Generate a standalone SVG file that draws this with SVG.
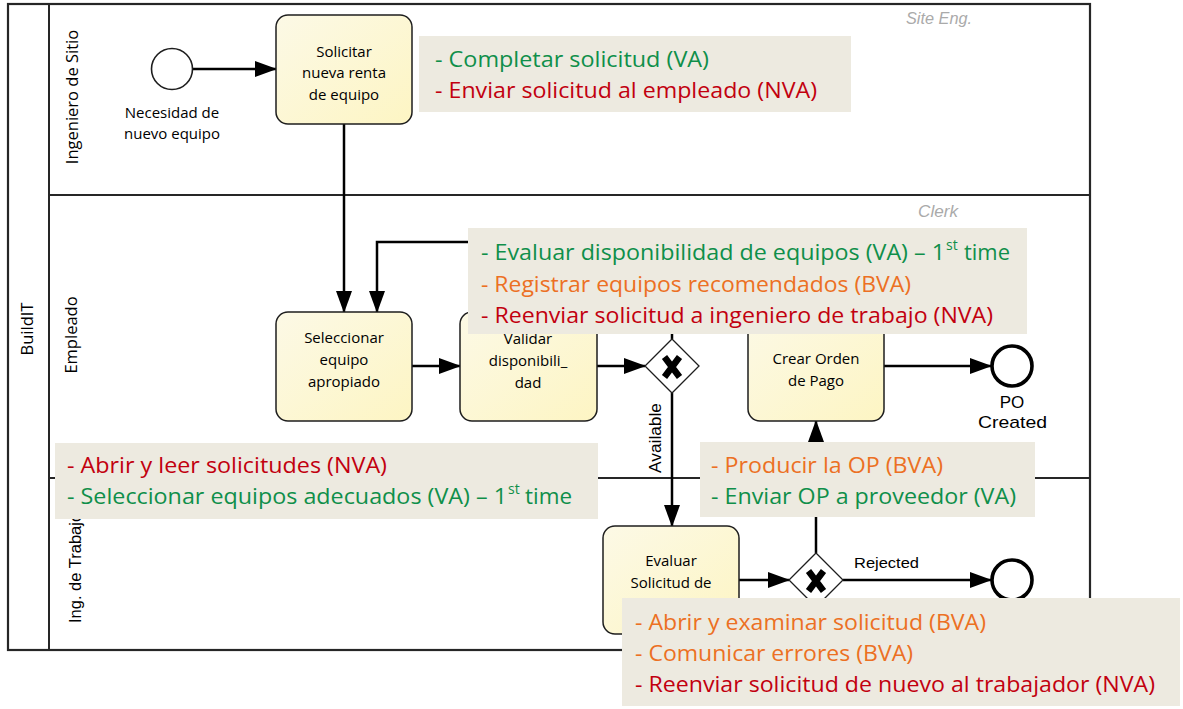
<svg xmlns="http://www.w3.org/2000/svg" width="1183" height="709" viewBox="0 0 1183 709">
  <defs>
    <style>
      .pool{fill:none;stroke:#262626;stroke-width:2.2}
      .lane{fill:none;stroke:#262626;stroke-width:2}
      .task{fill:url(#taskFill);stroke:#1e1e1e;stroke-width:1.5}
      .gw{fill:#fff;stroke:#1e1e1e;stroke-width:1.3}
      .flow{fill:none;stroke:#000;stroke-width:2.5}
      .start{fill:#fff;stroke:#1e1e1e;stroke-width:1.6}
      .end{fill:#fff;stroke:#000;stroke-width:3.6}
      .note{fill:#edeae0}
      .tt{font-family:"Open Sans","Noto Sans",sans-serif;font-size:15px;fill:#000;text-anchor:middle}
      .lab{font-family:"Open Sans","Noto Sans",sans-serif;font-size:16.5px;fill:#000;text-anchor:middle}
      .ar{font-family:"Liberation Sans",Arial,sans-serif;fill:#000}
      .role{font-family:"Liberation Sans",Arial,sans-serif;font-style:italic;font-size:16px;fill:#aaaaaa}
      .an{font-family:"Open Sans","Noto Sans",sans-serif;font-size:22px}
      .sup{font-family:"Open Sans","Noto Sans",sans-serif;font-size:14px}
      .va{fill:#0f8f4a}
      .bva{fill:#ec7023}
      .nva{fill:#c2000f}
    </style>
    <linearGradient id="taskFill" x1="0" y1="0" x2="1" y2="1">
      <stop offset="0" stop-color="#fcf9e6"/>
      <stop offset="1" stop-color="#fdf5c3"/>
    </linearGradient>
    <marker id="arrow" viewBox="0 0 22 16" refX="21" refY="8" markerWidth="22" markerHeight="16" orient="auto" markerUnits="userSpaceOnUse">
      <path d="M0,0 L22,8 L0,16 z" fill="#000"/>
    </marker>
    <!-- exclusive gateway marker -->
    <path id="xmark" d="M-7.5,-10 L7.5,10 M7.5,-10 L-7.5,10" fill="none" stroke="#000" stroke-width="6.5"/>
  </defs>

  <rect width="1183" height="709" fill="#fff"/>

  <!-- pool and lanes -->
  <g id="pool">
    <rect class="pool" x="8" y="4" width="1082" height="646"/>
    <line class="lane" x1="49" y1="4" x2="49" y2="650"/>
    <line class="lane" x1="49" y1="195" x2="1090" y2="195"/>
    <line class="lane" x1="49" y1="478" x2="1090" y2="478"/>
    <text class="lab" font-size="18" transform="translate(33,329) rotate(-90)">BuildIT</text>
    <text class="lab" transform="translate(78,97) rotate(-90)">Ingeniero de Sitio</text>
    <text class="lab" transform="translate(77,335) rotate(-90)">Empleado</text>
    <text class="ar" font-size="16.5" transform="translate(81,623) rotate(-90)">Ing. de Trabajo</text>
    <text class="role" x="906" y="24" textLength="66" lengthAdjust="spacingAndGlyphs">Site Eng.</text>
    <text class="role" x="918" y="217" textLength="40" lengthAdjust="spacingAndGlyphs">Clerk</text>
  </g>

  <!-- sequence flows -->
  <g id="connectors">
    <line class="flow" x1="193" y1="69" x2="276" y2="69" marker-end="url(#arrow)"/>
    <line class="flow" x1="344" y1="124" x2="344" y2="312" marker-end="url(#arrow)"/>
    <line class="flow" x1="412" y1="366" x2="460" y2="366" marker-end="url(#arrow)"/>
    <line class="flow" x1="597" y1="366" x2="645" y2="366" marker-end="url(#arrow)"/>
    <polyline class="flow" points="672,339 672,242 377,242 377,312" marker-end="url(#arrow)"/>
    <line class="flow" x1="672" y1="393" x2="672" y2="526" marker-end="url(#arrow)"/>
    <text class="ar" font-size="17" transform="translate(661,473) rotate(-90)" textLength="70" lengthAdjust="spacingAndGlyphs">Available</text>
    <line class="flow" x1="884" y1="366" x2="991" y2="366" marker-end="url(#arrow)"/>
    <line class="flow" x1="739" y1="580" x2="789" y2="580" marker-end="url(#arrow)"/>
    <line class="flow" x1="843" y1="580" x2="991" y2="580" marker-end="url(#arrow)"/>
    <text class="ar" font-size="15" x="854" y="568" textLength="65" lengthAdjust="spacingAndGlyphs">Rejected</text>
    <line class="flow" x1="816" y1="553" x2="816" y2="421" marker-end="url(#arrow)"/>
  </g>

  <!-- events -->
  <g id="start-necesidad">
    <circle class="start" cx="172" cy="69" r="20.5"/>
    <text class="tt" font-size="15.5" x="172" y="118">Necesidad de</text>
    <text class="tt" font-size="15.5" x="172" y="139">nuevo equipo</text>
  </g>
  <g id="end-po-created">
    <circle class="end" cx="1012" cy="366" r="20"/>
    <text class="ar" font-size="17" x="1012" y="408" text-anchor="middle">PO</text>
    <text class="ar" font-size="17" x="978" y="428" textLength="69" lengthAdjust="spacingAndGlyphs">Created</text>
  </g>
  <g id="end-rejected">
    <circle class="end" cx="1012" cy="580" r="20"/>
  </g>

  <!-- tasks -->
  <g id="task-solicitar">
    <rect class="task" x="276" y="15" width="136" height="109" rx="12"/>
    <text class="tt" x="344" y="57">Solicitar</text>
    <text class="tt" x="344" y="78">nueva renta</text>
    <text class="tt" x="344" y="100">de equipo</text>
  </g>
  <g id="task-seleccionar">
    <rect class="task" x="276" y="312" width="136" height="109" rx="12"/>
    <text class="tt" x="344" y="343">Seleccionar</text>
    <text class="tt" x="344" y="365">equipo</text>
    <text class="tt" x="344" y="387">apropiado</text>
  </g>
  <g id="task-validar">
    <rect class="task" x="460" y="312" width="137" height="109" rx="12"/>
    <text class="tt" x="528" y="344">Validar</text>
    <text class="tt" x="528" y="366">disponibili_</text>
    <text class="tt" x="528" y="388">dad</text>
  </g>
  <g id="task-crear-orden">
    <rect class="task" x="748" y="312" width="136" height="109" rx="12"/>
    <text class="tt" x="816" y="364">Crear Orden</text>
    <text class="tt" x="816" y="386">de Pago</text>
  </g>
  <g id="task-evaluar">
    <rect class="task" x="603" y="526" width="136" height="108" rx="12"/>
    <text class="tt" x="671" y="566">Evaluar</text>
    <text class="tt" x="671" y="588">Solicitud de</text>
  </g>

  <!-- gateways -->
  <g id="gateway-disponible">
    <polygon class="gw" points="672,339 699,366 672,393 645,366"/>
    <use href="#xmark" x="672" y="367"/>
  </g>
  <g id="gateway-evaluacion">
    <polygon class="gw" points="816,553 843,580 816,607 789,580"/>
    <use href="#xmark" x="816" y="581"/>
  </g>

  <!-- value-added annotations -->
  <g id="note-solicitar">
    <rect class="note" x="419" y="36" width="432" height="76"/>
    <text class="an va" x="435" y="67" textLength="274" lengthAdjust="spacingAndGlyphs">- Completar solicitud (VA)</text>
    <text class="an nva" x="435" y="98" textLength="382" lengthAdjust="spacingAndGlyphs">- Enviar solicitud al empleado (NVA)</text>
  </g>
  <g id="note-validar">
    <rect class="note" x="468" y="228" width="559" height="106"/>
    <text class="an va" x="481" y="260" textLength="464" lengthAdjust="spacingAndGlyphs">- Evaluar disponibilidad de equipos (VA) – 1</text>
    <text class="sup va" x="946" y="250">st</text>
    <text class="an va" x="964" y="260" textLength="46" lengthAdjust="spacingAndGlyphs">time</text>
    <text class="an bva" x="481" y="292" textLength="430" lengthAdjust="spacingAndGlyphs">- Registrar equipos recomendados (BVA)</text>
    <text class="an nva" x="481" y="323" textLength="512" lengthAdjust="spacingAndGlyphs">- Reenviar solicitud a ingeniero de trabajo (NVA)</text>
  </g>
  <g id="note-seleccionar">
    <rect class="note" x="55" y="443" width="543" height="76"/>
    <text class="an nva" x="67" y="473" textLength="320" lengthAdjust="spacingAndGlyphs">- Abrir y leer solicitudes (NVA)</text>
    <text class="an va" x="67" y="504" textLength="440" lengthAdjust="spacingAndGlyphs">- Seleccionar equipos adecuados (VA) – 1</text>
    <text class="sup va" x="508" y="494">st</text>
    <text class="an va" x="525" y="504" textLength="47" lengthAdjust="spacingAndGlyphs">time</text>
  </g>
  <g id="note-crear-orden">
    <rect class="note" x="700" y="442" width="335" height="75"/>
    <text class="an bva" x="711" y="473" textLength="232" lengthAdjust="spacingAndGlyphs">- Producir la OP (BVA)</text>
    <text class="an va" x="711" y="504" textLength="305" lengthAdjust="spacingAndGlyphs">- Enviar OP a proveedor (VA)</text>
  </g>
  <g id="note-evaluar">
    <rect class="note" x="622" y="598" width="558" height="108"/>
    <text class="an bva" x="635" y="630" textLength="351" lengthAdjust="spacingAndGlyphs">- Abrir y examinar solicitud (BVA)</text>
    <text class="an bva" x="635" y="661" textLength="278" lengthAdjust="spacingAndGlyphs">- Comunicar errores (BVA)</text>
    <text class="an nva" x="635" y="692" textLength="520" lengthAdjust="spacingAndGlyphs">- Reenviar solicitud de nuevo al trabajador (NVA)</text>
  </g>
</svg>
